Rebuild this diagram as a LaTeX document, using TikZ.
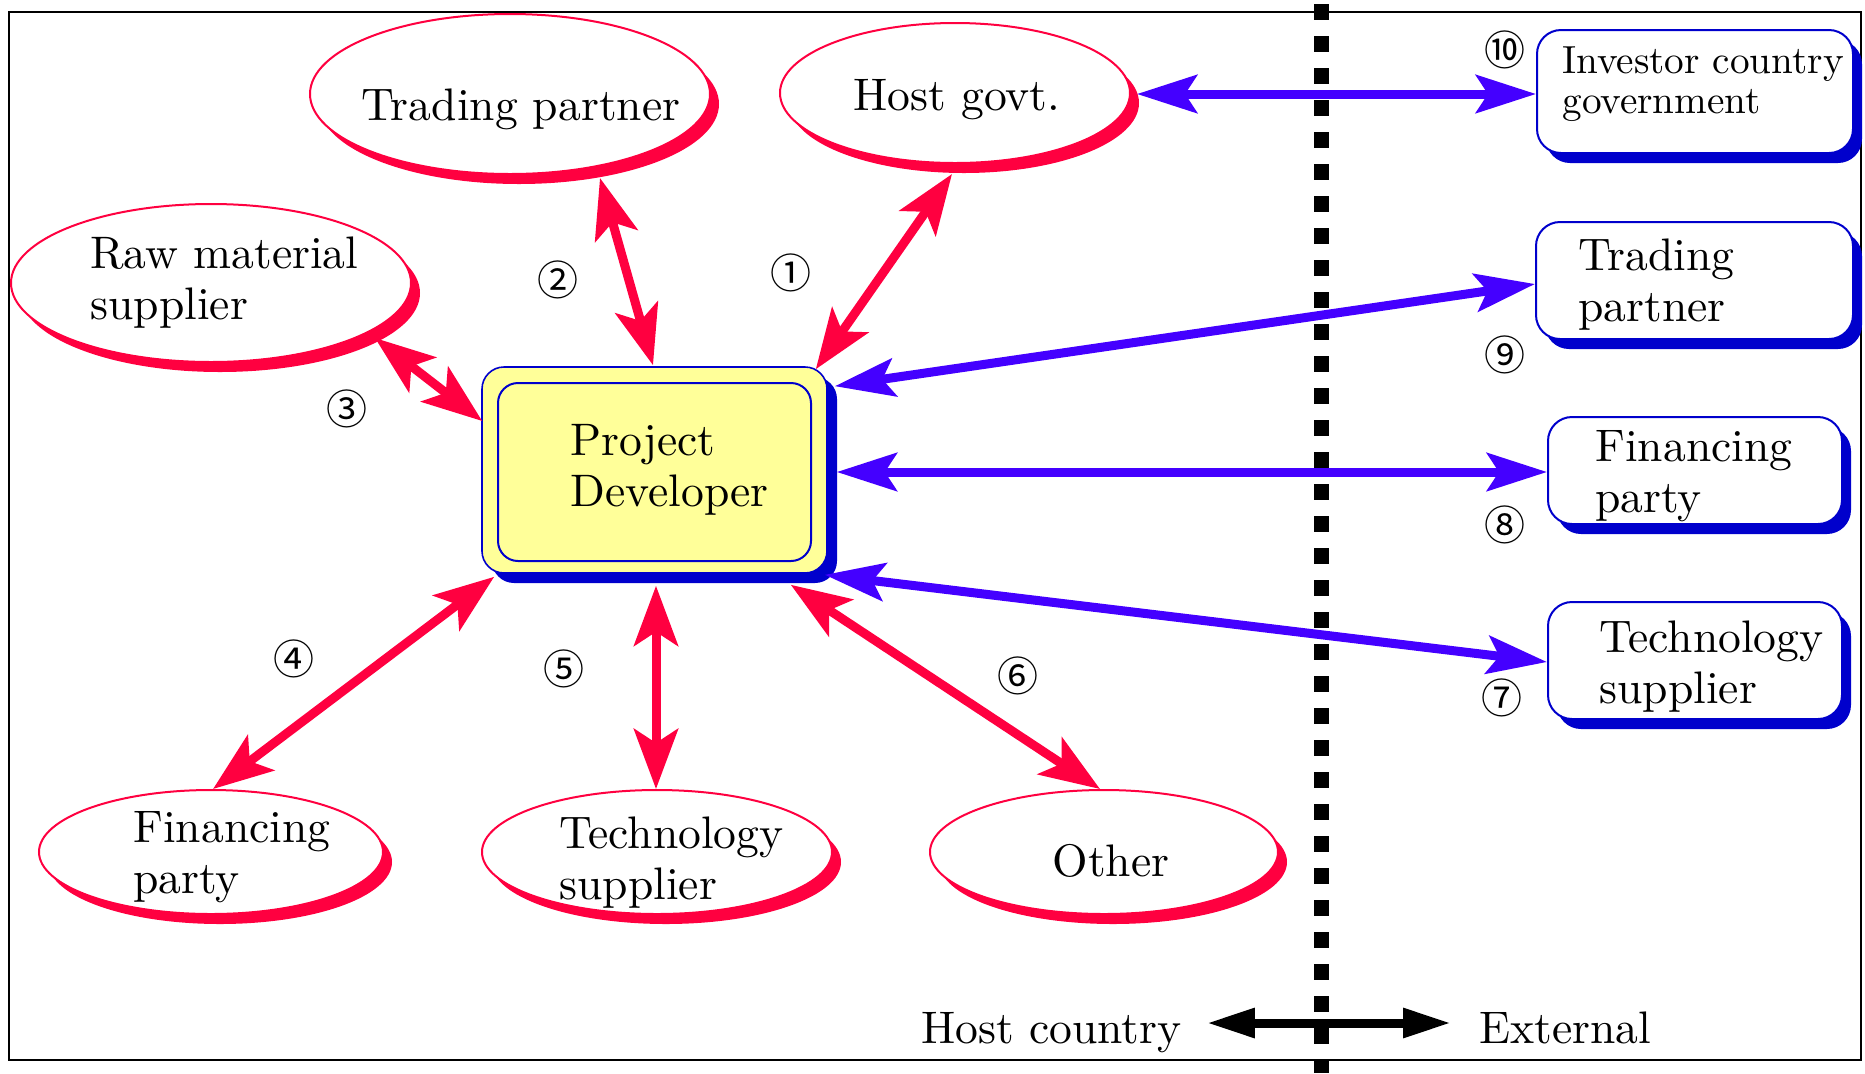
\documentclass[tikz,border=0pt]{standalone}
\usepackage{fontspec}
\setmainfont{lmroman10-regular.otf}
\newfontfamily\circfont{Noto Sans CJK SC}
\usetikzlibrary{shapes.geometric,shadows,arrows.meta,calc}
\definecolor{myred}{RGB}{255,0,64}
\definecolor{arrblue}{RGB}{68,0,255}
\definecolor{boxblue}{RGB}{0,0,204}
\definecolor{pdyellow}{RGB}{255,255,153}
\newcommand\dgmfont{\fontsize{22.8pt}{25.5pt}\selectfont}
\newcommand\icgfont{\fontsize{19.6pt}{20pt}\selectfont}
\newcommand\twol[2]{\vtop{\hbox{#1}\hbox{#2}}}
\tikzset{
  RT/.tip={Stealth[length=30pt,width=22pt,inset=7pt]},
  BT/.tip={Stealth[length=30pt,width=19pt,inset=6pt]},
  KT/.tip={Triangle[length=24pt,width=14pt]},
  ell/.style={ellipse, draw=myred, line width=1pt, fill=white, inner sep=0pt,
    general shadow={fill=myred, shadow xshift=4.5pt, shadow yshift=-5pt}},
  rbox/.style={rectangle, rounded corners=12pt, draw=boxblue, line width=1pt, fill=white, inner sep=0pt,
    general shadow={fill=boxblue, shadow xshift=4.5pt, shadow yshift=-5pt}},
  lbl/.style={inner sep=0pt, font=\dgmfont},
  num/.style={inner sep=0pt, font=\circfont\fontsize{20.5pt}{22pt}\selectfont},
  redarr/.style={draw=myred, line width=4.5pt, RT-RT},
  bluearr/.style={draw=arrblue, line width=4.5pt, BT-BT},
  blackarr/.style={draw=black, line width=4.5pt, KT-KT},
  divider/.style={line width=7.5pt, dash pattern=on 8pt off 8pt, dash phase=14pt}
}
\begin{document}
\begin{tikzpicture}[x=0.5pt,y=-0.5pt]
\useasboundingbox (0,0) rectangle (1865,1073);
% frame and divider
\draw[line width=1pt] (9,12) rectangle (1861,1060);
\coordinate (divtop) at (1321,0);
\coordinate (divbot) at (1321,1073);
\draw[divider] (divtop) -- (divbot);

% host-country ellipses
\node[ell, minimum width=200pt, minimum height=80pt] (tpL) at (510,94) {};
\node[ell, minimum width=175pt, minimum height=70pt] (hg) at (955,93) {};
\node[ell, minimum width=200pt, minimum height=79pt] (rm) at (211,283) {};
\node[ell, minimum width=172pt, minimum height=62pt] (fpL) at (211,852) {};
\node[ell, minimum width=175pt, minimum height=62pt] (tsL) at (657,852) {};
\node[ell, minimum width=174pt, minimum height=62pt] (oth) at (1104,852) {};

% project developer
\node[rectangle, rounded corners=11pt, draw=boxblue, line width=0.8pt, fill=pdyellow, inner sep=0pt,
  minimum width=172.5pt, minimum height=103pt,
  general shadow={fill=boxblue, shadow xshift=5pt, shadow yshift=-5pt}] (pd) at (654.5,470) {};
\node[rectangle, rounded corners=10pt, draw=boxblue, line width=1pt, fill=pdyellow, inner sep=0pt,
  minimum width=156.5pt, minimum height=89pt] (pdi) at (654.5,472) {};

% external boxes
\node[rbox, minimum width=158pt, minimum height=61.5pt] (icg) at (1695,91.5) {};
\node[rbox, minimum width=158.5pt, minimum height=58.5pt] (tpR) at (1694.5,280.5) {};
\node[rbox, minimum width=147pt, minimum height=53.5pt] (fpR) at (1695,470.5) {};
\node[rbox, minimum width=147pt, minimum height=58.5pt] (tsR) at (1695,660.5) {};

% texts
\node[lbl, anchor=base] (tpLt) at (521,120) {Trading partner};
\node[lbl, anchor=base] (hgt) at (957,110) {Host govt.};
\node[lbl, anchor=base west] (rmt) at (90,268) {\twol{Raw material}{supplier}};
\node[lbl, anchor=base west] (fpLt) at (133,842) {\twol{Financing}{party}};
\node[lbl, anchor=base west] (tsLt) at (559,848) {\twol{Technology}{supplier}};
\node[lbl, anchor=base] (otht) at (1111,876) {Other};
\node[lbl, anchor=base west] (pdt) at (570,455) {\twol{Project}{Developer}};
\node[inner sep=0pt, font=\icgfont, anchor=base west] (icgt) at (1562,73) {\twol{Investor country}{government}};
\node[lbl, anchor=base west] (tpRt) at (1578,270) {\twol{Trading}{partner}};
\node[lbl, anchor=base west] (fpRt) at (1595,461) {\twol{Financing}{party}};
\node[lbl, anchor=base west] (tsRt) at (1599,652) {\twol{Technology}{supplier}};
\node[lbl, anchor=base west] (hc) at (921,1043) {Host country};
\node[lbl, anchor=base west] (ext) at (1479,1043) {External};

% circled numbers
\node[num] (n1) at (791,273) {①};
\node[num] (n2) at (558,280) {②};
\node[num] (n3) at (347,409) {③};
\node[num] (n4) at (294,659) {④};
\node[num] (n5) at (564,669) {⑤};
\node[num] (n6) at (1018,676) {⑥};
\node[num] (n7) at (1502,698) {⑦};
\node[num] (n8) at (1505,525) {⑧};
\node[num] (n9) at (1505,355) {⑨};
\node[num] (n10) at (1505,50) {⑩};

% red connectors (host country)
\draw[redarr] ($(pd.north east)+(-12,3)$) -- ($(hg.south)+(-3,10)$);
\draw[redarr] ($(pd.north)+(-1.5,-1)$) -- ($(tpL.south)+(90,3)$);
\draw[redarr] ($(pd.west)+(1,-49)$) -- ($(rm.center)+(164,55)$);
\draw[redarr] ($(pd.south west)+(13,3)$) -- ($(fpL.north)+(2,0)$);
\draw[redarr] ($(pd.south)+(1.5,12)$) -- ($(tsL.north)+(-1,0)$);
\draw[redarr] ($(pd.south east)+(-37,11)$) -- ($(oth.north)+(-4,0)$);

% blue connectors (external)
\draw[bluearr] ($(pd.south east)+(-3,1)$) -- ($(tsR.west)+(0,1.5)$);
\draw[bluearr] ($(pd.east)+(9,2)$) -- ($(fpR.west)+(0,1.5)$);
\draw[bluearr] ($(pd.north east)+(7,20)$) -- ($(tpR.west)+(0,3.5)$);
\draw[bluearr] ($(hg.east)+(6,1)$) -- ($(icg.west)+(0,2.5)$);

% legend arrow
\draw[blackarr] ($(hc.base east)+(25,-20)$) -- ($(ext.base west)+(-28,-20)$);
\end{tikzpicture}
\end{document}
